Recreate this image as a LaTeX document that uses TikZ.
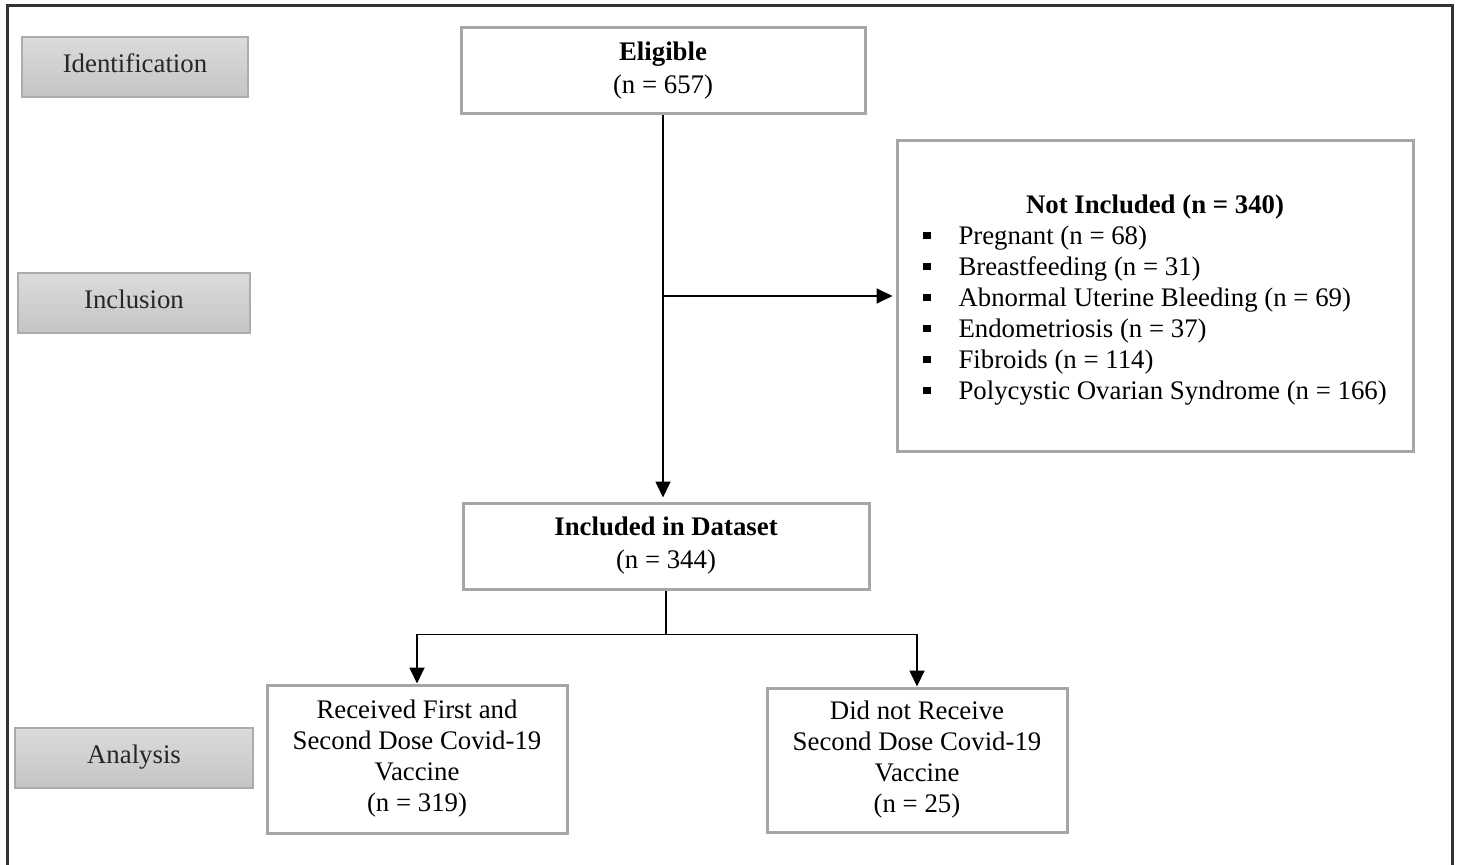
\documentclass[tikz,border=0pt]{standalone}
\usepackage{fontspec}
\setmainfont{Liberation Serif}
\usetikzlibrary{arrows.meta}

\newcommand\sqbul{\rule[2.6pt]{3.6pt}{3.6pt}}

\tikzset{
  stage/.style={draw=gray!65, line width=0.8pt, top color=gray!28, bottom color=gray!46,
    minimum width=113pt, minimum height=30pt, text=black!85, text height=9.5pt, text depth=4pt},
  flowbox/.style={draw=gray!70, line width=1.5pt, fill=white, align=center},
  link/.style={line width=0.9pt, -{Triangle[length=8pt,width=7.5pt]}}
}

\begin{document}
\begin{tikzpicture}[x=0.5pt, y=-0.5pt, font=\fontsize{13.4}{15.5}\selectfont]

\clip (0,0) rectangle (1459,865);
\fill[white] (0,0) rectangle (1459,865);
\draw[line width=1.5pt, black!80] (7,880) |- (1452,6) -- (1452,880);

\node[stage] (ident) at (135,67) {Identification};
\node[stage, minimum width=116pt] (incls) at (134,303) {Inclusion};
\node[stage, minimum width=119pt] (anal) at (134,758) {Analysis};

\node[flowbox, minimum width=202pt, minimum height=43pt] (elig) at (663,71)
  {\textbf{Eligible}\\[1pt](n = 657)};
\node[flowbox, minimum width=258pt, minimum height=155pt] (excl) at (1155,296)
  {\begin{tabular}{@{}l@{\hspace{14pt}}l@{}}
   \multicolumn{2}{c}{\rule{0pt}{15pt}\textbf{Not Included (n = 340)}}\\
   \sqbul & Pregnant (n = 68)\\
   \sqbul & Breastfeeding (n = 31)\\
   \sqbul & Abnormal Uterine Bleeding (n = 69)\\
   \sqbul & Endometriosis (n = 37)\\
   \sqbul & Fibroids (n = 114)\\
   \sqbul & Polycystic Ovarian Syndrome (n = 166)
   \end{tabular}};
\node[flowbox, minimum width=203pt, minimum height=43pt] (incl) at (666,546)
  {\textbf{Included in Dataset}\\[1pt](n = 344)};
\node[flowbox, minimum width=150pt, minimum height=74pt] (recv) at (417,759)
  {Received First and\\Second Dose Covid-19\\Vaccine\\(n = 319)};
\node[flowbox, minimum width=150pt, minimum height=72pt] (norecv) at (917,760)
  {Did not Receive\\Second Dose Covid-19\\Vaccine\\(n = 25)};

\draw[link, shorten >=2pt] (elig.south) -- (elig.south |- incl.north);
\coordinate (jn) at (elig.south |- excl.west);
\draw[link, shorten >=1.5pt] (jn) -- (excl.west);
\draw[line width=0.9pt] (incl.south) -- ++(0,44) coordinate (sp);
\draw[link] (sp) -| (recv.north);
\draw[link] (sp) -| (norecv.north);

\end{tikzpicture}
\end{document}
